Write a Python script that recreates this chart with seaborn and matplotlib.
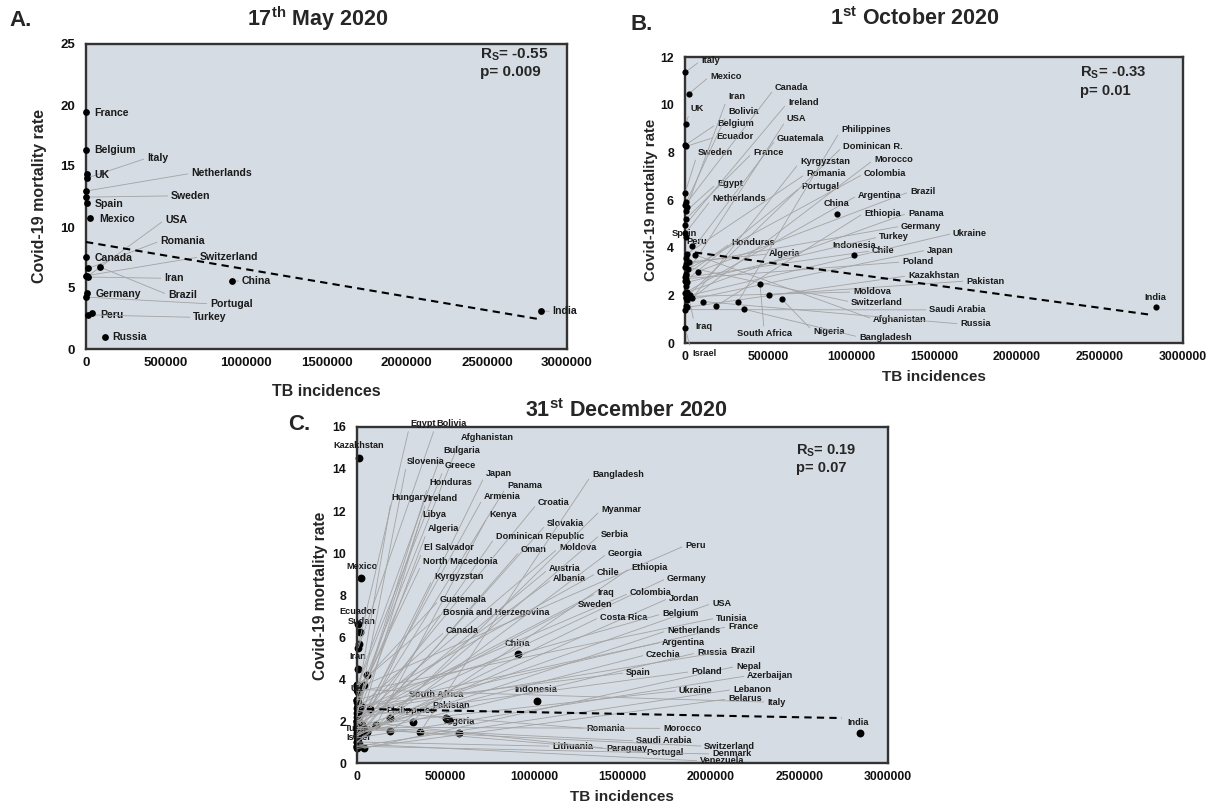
import numpy as np
import pandas as pd
import matplotlib
matplotlib.use("Agg")
import matplotlib.pyplot as plt
import seaborn as sns

# ============================ DATA ============================
x_ticks = [0, 500000, 1000000, 1500000, 2000000, 2500000, 3000000]

# ---- Panel A: 17th May 2020 ----
a_countries = ["France", "Belgium", "Italy", "UK", "Netherlands", "Sweden", "Spain",
               "Mexico", "USA", "Romania", "Canada", "Switzerland", "Iran", "Brazil",
               "Germany", "Portugal", "Peru", "Turkey", "Russia", "China", "India"]
a_tb = [3000, 1000, 4000, 5000, 800, 500, 4000, 27000, 9000, 13000, 1800, 500, 9800,
        90000, 5500, 1900, 35000, 15000, 116000, 910000, 2840000]
a_cfr = [19.4, 16.3, 14.0, 14.35, 12.95, 12.45, 11.95, 10.7, 5.95, 6.6, 7.55, 6.0, 5.9,
         6.7, 4.6, 4.25, 2.95, 2.8, 1.0, 5.6, 3.1]
a_trend_tb = [0, 2820000]
a_trend_cfr = [8.77, 2.46]
a_stats = ["R$_S$= -0.55", "p= 0.009"]
a_yticks = [0, 5, 10, 15, 20, 25]

# ---- Panel B: 1st October 2020 ----
b_countries = ["Italy", "Mexico", "UK", "Belgium", "Ecuador", "Sweden", "Bolivia", "Canada",
               "Iran", "Egypt", "France", "Ireland", "Netherlands", "Spain", "Peru",
               "Afghanistan", "Guatemala", "Romania", "Indonesia", "Algeria", "Germany",
               "Switzerland", "Colombia", "Brazil", "USA", "Honduras", "Chile", "Poland",
               "Portugal", "Turkey", "South Africa", "Iraq", "Argentina", "Panama", "Pakistan",
               "Ukraine", "Moldova", "Dominican R.", "Morocco", "Nigeria", "Japan",
               "Philippines", "Russia", "Kyrgyzstan", "Ethiopia", "India", "Kazakhstan",
               "Bangladesh", "Saudi Arabia", "Israel", "China"]
b_tb = [2000, 24000, 4600, 900, 6000, 500, 8000, 1900, 11000, 9000, 5000, 300, 800, 4300,
        40000, 60000, 3600, 13000, 1016000, 23000, 5500, 500, 18000, 78000, 8900, 3400,
        2900, 5300, 1900, 13000, 452000, 8000, 12000, 2800, 506000, 28000, 3900, 4500,
        42000, 582000, 15000, 320000, 108000, 7000, 187000, 2840000, 14000, 355000, 2700,
        200, 914000]
b_cfr = [11.36, 10.46, 9.2, 8.3, 8.25, 6.3, 5.9, 5.8, 5.7, 5.55, 5.2, 4.95, 4.6, 4.45,
         4.05, 3.7, 3.55, 3.75, 3.68, 3.4, 3.3, 3.2, 3.1, 3.0, 2.9, 2.85, 2.75, 2.7, 2.6,
         2.55, 2.48, 2.4, 2.15, 2.1, 2.03, 2.0, 1.95, 1.9, 1.88, 1.85, 1.8, 1.74, 1.74,
         1.55, 1.55, 1.51, 1.5, 1.42, 1.4, 0.63, 5.42]
b_trend_tb = [60000, 2810000]
b_trend_cfr = [3.8, 1.18]
b_stats = ["R$_S$= -0.33", "p= 0.01"]
b_yticks = [0, 2, 4, 6, 8, 10, 12]

# ---- Panel C: 31st December 2020 ----
c_countries = ["Kazakhstan", "Mexico", "Ecuador", "Sudan", "Egypt", "Bolivia", "Iran",
               "Afghanistan", "China", "Indonesia", "India", "Bulgaria", "Slovenia", "Greece",
               "Japan", "Honduras", "Panama", "Hungary", "Ireland", "Armenia", "Croatia",
               "Libya", "Kenya", "Slovakia", "Algeria", "Dominican Republic", "El Salvador",
               "Oman", "Moldova", "North Macedonia", "Kyrgyzstan", "Austria", "Albania",
               "Guatemala", "Bosnia and Herzegovina", "Canada", "South Africa", "Philippines",
               "Pakistan", "Nigeria", "Turkey", "Israel", "Lithuania", "Bangladesh", "Myanmar",
               "Serbia", "Peru", "Georgia", "Chile", "Ethiopia", "Germany", "Iraq", "Colombia",
               "Jordan", "Sweden", "USA", "Costa Rica", "Belgium", "Tunisia", "France",
               "Netherlands", "Argentina", "Czechia", "Russia", "Brazil", "Nepal",
               "Azerbaijan", "Spain", "Poland", "Ukraine", "Lebanon", "Belarus", "Italy",
               "Romania", "Morocco", "Saudi Arabia", "Switzerland", "Paraguay", "Portugal",
               "Denmark", "Venezuela", "UK"]
c_tb = [10000, 20000, 5000, 17000, 9000, 8000, 7000, 56000, 910000, 1017000, 2840000, 1300,
        100, 500, 15000, 3400, 2800, 600, 300, 800, 400, 2700, 107000, 300, 23000, 4500,
        1900, 300, 3900, 300, 7000, 500, 500, 3600, 1100, 1900, 316000, 520000, 503000,
        576000, 13000, 200, 1000, 356000, 186000, 1100, 37000, 3000, 2900, 186000, 5500,
        8000, 18000, 400, 500, 8900, 400, 900, 4500, 5000, 800, 12000, 400, 56000, 75000,
        40000, 5000, 4300, 5300, 28000, 800, 2800, 2000, 13000, 35000, 2700, 500, 2800,
        1900, 300, 12000, 4600]
c_cfr = [14.5, 8.8, 6.6, 6.25, 5.65, 5.5, 4.5, 4.2, 5.2, 2.95, 1.45, 3.7, 2.2, 3.6, 1.5,
         2.5, 1.7, 3.0, 2.4, 1.8, 1.9, 1.5, 1.8, 1.3, 2.7, 1.4, 2.9, 1.2, 2.1, 3.0, 1.7,
         1.7, 2.0, 3.6, 3.7, 2.6, 1.95, 2.05, 2.15, 1.43, 1.6, 0.75, 1.0, 1.47, 2.15, 1.0,
         3.7, 1.0, 2.7, 1.52, 1.9, 2.2, 2.6, 1.3, 2.0, 1.7, 1.3, 3.0, 3.4, 2.4, 1.4, 2.7,
         1.6, 1.5, 2.55, 0.7, 1.2, 2.7, 2.2, 1.8, 0.8, 0.7, 3.5, 2.5, 1.7, 1.7, 1.6, 2.0,
         1.7, 0.8, 0.9, 3.6]
c_trend_tb = [56000, 2740000]
c_trend_cfr = [2.57, 2.14]
c_stats = ["R$_S$= 0.19", "p= 0.07"]
c_yticks = [0, 2, 4, 6, 8, 10, 12, 14, 16]

# ============================ LAYOUT (label anchors, data units) ============================
a_lab = {"France": (50000, 19.35), "Belgium": (50000, 16.3), "Italy": (380000, 15.65),
         "UK": (50000, 14.25), "Netherlands": (655000, 14.4), "Sweden": (530000, 12.55),
         "Spain": (56000, 11.85), "Mexico": (81000, 10.65), "USA": (493000, 10.6),
         "Romania": (462000, 8.85), "Canada": (56000, 7.45), "Switzerland": (711000, 7.55),
         "Iran": (487000, 5.8), "Brazil": (511000, 4.45), "Germany": (62000, 4.5),
         "Portugal": (773000, 3.7), "Peru": (87000, 2.8), "Turkey": (667000, 2.6),
         "Russia": (162000, 0.95), "China": (973000, 5.55), "India": (2910000, 3.1)}

b_lab = {"Italy": (96000, 11.85), "Mexico": (151000, 11.2), "Canada": (542000, 10.7),
         "Iran": (259000, 10.35), "UK": (36000, 9.83), "Ireland": (620000, 10.1),
         "Bolivia": (259000, 9.7), "USA": (614000, 9.4), "Belgium": (193000, 9.2),
         "Philippines": (940000, 8.95), "Ecuador": (187000, 8.65), "Guatemala": (554000, 8.6),
         "Dominican R.": (952000, 8.25), "Sweden": (78000, 8.0), "France": (410000, 8.0),
         "Kyrgyzstan": (693000, 7.6), "Morocco": (1139000, 7.7), "Romania": (729000, 7.1),
         "Colombia": (1078000, 7.1), "Egypt": (193000, 6.7), "Portugal": (699000, 6.55),
         "Argentina": (1042000, 6.2), "Netherlands": (163000, 6.05), "Brazil": (1355000, 6.35),
         "China": (837000, 5.85), "Ethiopia": (1078000, 5.45), "Panama": (1343000, 5.45),
         "Germany": (1301000, 4.9), "Ukraine": (1614000, 4.6), "Turkey": (1169000, 4.45),
         "Spain": (-80000, 4.6), "Peru": (10000, 4.25), "Honduras": (277000, 4.2),
         "Indonesia": (886000, 4.1), "Chile": (1127000, 3.87), "Japan": (1458000, 3.9),
         "Algeria": (506000, 3.74), "Poland": (1307000, 3.4), "Kazakhstan": (1343000, 2.82),
         "Pakistan": (1693000, 2.6), "India": (2765000, 1.93), "Moldova": (1012000, 2.14),
         "Switzerland": (1000000, 1.72), "Saudi Arabia": (1470000, 1.39),
         "Afghanistan": (1133000, 1.0), "Russia": (1657000, 0.8), "Iraq": (60000, 0.71),
         "South Africa": (313000, 0.38), "Nigeria": (771000, 0.5),
         "Bangladesh": (1048000, 0.25), "Israel": (42000, -0.42)}

c_lab = {"Egypt": (300000, 16.15), "Bolivia": (448000, 16.15), "Afghanistan": (588000, 15.5),
         "Kazakhstan": (-136000, 15.1), "Bulgaria": (486000, 14.9), "Slovenia": (283000, 14.35),
         "Greece": (497000, 14.15), "Japan": (729000, 13.8), "Honduras": (407000, 13.35),
         "Panama": (848000, 13.2), "Hungary": (196000, 12.65), "Ireland": (398000, 12.6),
         "Armenia": (718000, 12.7), "Croatia": (1023000, 12.4), "Libya": (367000, 11.85),
         "Kenya": (746000, 11.85), "Slovakia": (1074000, 11.4), "Algeria": (401000, 11.15),
         "Dominican Republic": (785000, 10.8), "El Salvador": (379000, 10.25),
         "Oman": (927000, 10.15), "Moldova": (1141000, 10.25), "Mexico": (-62000, 9.35),
         "North Macedonia": (373000, 9.6), "Kyrgyzstan": (435000, 8.9),
         "Austria": (1085000, 9.25), "Albania": (1107000, 8.78), "Guatemala": (469000, 7.8),
         "Ecuador": (-102000, 7.2), "Sudan": (-51000, 6.75),
         "Bosnia and Herzegovina": (486000, 7.15), "Canada": (503000, 6.3),
         "China": (836000, 5.7), "Iran": (-45000, 5.05), "UK": (-34000, 3.55),
         "South Africa": (294000, 3.25), "Indonesia": (887000, 3.5),
         "Philippines": (165000, 2.5), "Pakistan": (428000, 2.72), "Nigeria": (486000, 2.0),
         "Turkey": (-68000, 1.62), "Israel": (-62000, 1.22), "Lithuania": (1102000, 0.8),
         "Bangladesh": (1328000, 13.75), "Myanmar": (1379000, 12.05), "Serbia": (1379000, 10.9),
         "Peru": (1853000, 10.35), "Georgia": (1418000, 10.0), "Chile": (1356000, 9.05),
         "Ethiopia": (1548000, 9.3), "Germany": (1752000, 8.8), "Iraq": (1356000, 8.1),
         "Colombia": (1542000, 8.1), "Jordan": (1763000, 7.85), "Sweden": (1249000, 7.55),
         "USA": (2006000, 7.6), "Costa Rica": (1373000, 6.95), "Belgium": (1723000, 7.1),
         "Tunisia": (2028000, 6.9), "France": (2096000, 6.5), "Netherlands": (1752000, 6.3),
         "Argentina": (1723000, 5.75), "Czechia": (1633000, 5.15), "Russia": (1921000, 5.25),
         "Brazil": (2107000, 5.35), "Nepal": (2141000, 4.6), "Azerbaijan": (2204000, 4.15),
         "Spain": (1520000, 4.3), "Poland": (1887000, 4.35), "Ukraine": (1819000, 3.45),
         "Lebanon": (2124000, 3.5), "Belarus": (2096000, 3.05), "Italy": (2317000, 2.9),
         "India": (2769000, 1.95), "Romania": (1294000, 1.65), "Morocco": (1729000, 1.65),
         "Saudi Arabia": (1576000, 1.05), "Switzerland": (1961000, 0.8),
         "Paraguay": (1407000, 0.7), "Portugal": (1633000, 0.52), "Denmark": (2006000, 0.43),
         "Venezuela": (1938000, 0.1)}

# ============================ STYLE ============================
sns.set_theme(style="white")
plt.rcParams["font.family"] = ["Liberation Sans", "DejaVu Sans"]
plt.rcParams["mathtext.fontset"] = "custom"
plt.rcParams["mathtext.rm"] = "Liberation Sans:bold"
plt.rcParams["mathtext.it"] = "Liberation Sans:bold"
plt.rcParams["mathtext.bf"] = "Liberation Sans:bold"

FACE = "#D6DCE4"
EDGE = "#333333"
LEAD = "#a3a3a3"

fig = plt.figure(figsize=(12.18, 8.07), dpi=100)
fig.patch.set_facecolor("white")
W, H = 1218.0, 807.0


def px_axes(l, t, r, b):
    return fig.add_axes([l / W, 1 - b / H, (r - l) / W, (b - t) / H])


panels = [
    dict(rect=(86, 44, 567, 349), names=a_countries, tb=a_tb, cfr=a_cfr, lab=a_lab,
         ttb=a_trend_tb, tcfr=a_trend_cfr, stats=a_stats, yt=a_yticks, ylim=25,
         tick_fs=9.5, lab_fs=7.6, dot=24, lines_on_top=False,
         stats_xy=(480, 55, 72), stat_fs=11),
    dict(rect=(685, 57, 1183, 343), names=b_countries, tb=b_tb, cfr=b_cfr, lab=b_lab,
         ttb=b_trend_tb, tcfr=b_trend_cfr, stats=b_stats, yt=b_yticks, ylim=12,
         tick_fs=8.8, lab_fs=6.7, dot=20, lines_on_top=False,
         stats_xy=(1080, 73, 91), stat_fs=10.7),
    dict(rect=(357, 427, 888, 763), names=c_countries, tb=c_tb, cfr=c_cfr, lab=c_lab,
         ttb=c_trend_tb, tcfr=c_trend_cfr, stats=c_stats, yt=c_yticks, ylim=16,
         tick_fs=8.8, lab_fs=6.6, dot=32, lines_on_top=True,
         stats_xy=(796, 451, 468), stat_fs=10.5),
]

all_anns = []
for p in panels:
    ax = px_axes(*p["rect"])
    ax.set_facecolor(FACE)
    df = pd.DataFrame({"country": p["names"], "tb": p["tb"], "cfr": p["cfr"]})
    sns.scatterplot(data=df, x="tb", y="cfr", ax=ax, color="black", s=p["dot"],
                    linewidth=0, clip_on=False, zorder=2 if p["lines_on_top"] else 5,
                    legend=False)
    ax.plot(p["ttb"], p["tcfr"], color="black", lw=1.5, ls=(0, (3.5, 2.5)), zorder=6)
    for n, x, y in zip(df["country"], df["tb"], df["cfr"]):
        tx, ty = p["lab"][n]
        ann = ax.annotate(n, xy=(x, y), xytext=(tx, ty), textcoords="data",
                          ha="left", va="center", fontsize=p["lab_fs"], fontweight="bold",
                          color="#1a1a1a", annotation_clip=False, zorder=3,
                          arrowprops=dict(arrowstyle="-", color=LEAD, lw=0.6,
                                          shrinkA=0, shrinkB=0,
                                          relpos=(0, 0.5) if x < tx else (0.5, 0.5)))
        all_anns.append((ax, ann, x, y))
    ax.set_xlim(0, 3000000)
    ax.set_ylim(0, p["ylim"])
    ax.set_xticks(x_ticks)
    ax.set_xticklabels([str(t) for t in x_ticks])
    ax.set_yticks(p["yt"])
    ax.set_yticklabels([str(t) for t in p["yt"]])
    ax.tick_params(length=0, labelsize=p["tick_fs"], pad=8)
    ax.tick_params(axis="x", pad=6)
    for lbl in ax.get_xticklabels() + ax.get_yticklabels():
        lbl.set_fontweight("bold")
        lbl.set_color("#111111")
    ax.set_xlabel("")
    ax.set_ylabel("")
    for s in ax.spines.values():
        s.set_color(EDGE)
        s.set_linewidth(1.7)
        s.set_visible(True)
    sx, sy1, sy2 = p["stats_xy"]
    fig.text(sx / W, 1 - sy1 / H, p["stats"][0], fontsize=p["stat_fs"], fontweight="bold",
             ha="left", va="center")
    fig.text(sx / W, 1 - sy2 / H, p["stats"][1], fontsize=p["stat_fs"], fontweight="bold",
             ha="left", va="center")

# Remove leader lines for labels sitting right next to their point
fig.canvas.draw()
renderer = fig.canvas.get_renderer()
for ax, ann, x, y in all_anns:
    bb = plt.Text.get_window_extent(ann, renderer)
    px, py = ax.transData.transform((x, y))
    dx = max(bb.x0 - px, 0, px - bb.x1)
    dy = max(bb.y0 - py, 0, py - bb.y1)
    if np.hypot(dx, dy) < 10:
        ann.arrow_patch.set_visible(False)

# Titles, panel letters, axis labels
def ftext(x, y, s, **kw):
    fig.text(x / W, 1 - y / H, s, fontweight="bold", **kw)

ftext(247, 19, "17$^{th}$ May 2020", fontsize=15.5, ha="left", va="center")
ftext(830, 19, "1$^{st}$ October 2020", fontsize=15.5, ha="left", va="center")
ftext(525, 411, "31$^{st}$ December 2020", fontsize=15.5, ha="left", va="center")
ftext(9, 20, "A.", fontsize=16, ha="left", va="center")
ftext(630, 24, "B.", fontsize=16, ha="left", va="center")
ftext(288, 425, "C.", fontsize=16, ha="left", va="center")

ftext(40, 196, "Covid-19 mortality rate", fontsize=11.5, rotation=90, ha="center", va="center")
ftext(651, 200, "Covid-19 mortality rate", fontsize=10.8, rotation=90, ha="center", va="center")
ftext(320, 596, "Covid-19 mortality rate", fontsize=11.2, rotation=90, ha="center", va="center")
ftext(326, 391, "TB incidences", fontsize=11.5, ha="center", va="center")
ftext(934, 377, "TB incidences", fontsize=11, ha="center", va="center")
ftext(622, 797, "TB incidences", fontsize=11, ha="center", va="center")

fig.savefig("out.png", dpi=100)
